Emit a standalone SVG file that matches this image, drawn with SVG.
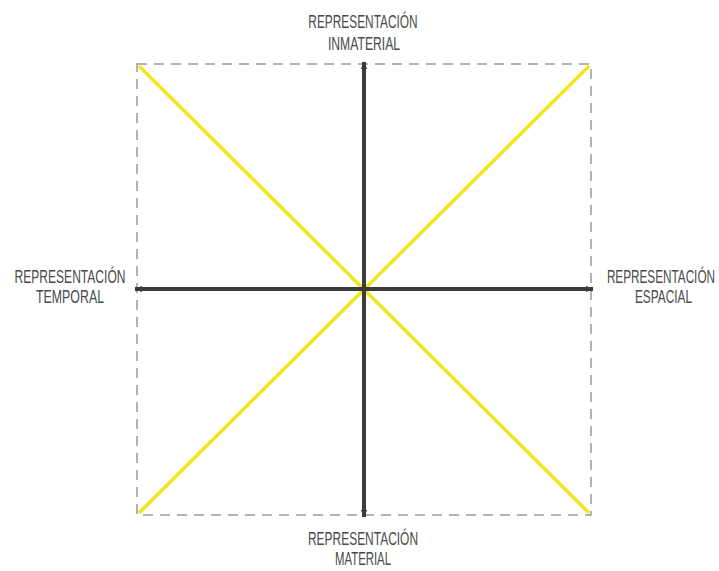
<svg xmlns="http://www.w3.org/2000/svg" width="719" height="571" viewBox="0 0 719 571">
<style>
.lbl{font-family:"Liberation Sans",Arial,sans-serif;font-size:18px;fill:#4a4a4a;text-anchor:middle}
.end{text-anchor:end}
.frame{fill:none;stroke:#9a9a9a;stroke-width:1.5;stroke-dasharray:10 7}
.diag{stroke:#f4e41c;stroke-width:3.5;stroke-linecap:butt}
.axis{stroke:#3c3c3c;stroke-width:4;marker-end:url(#tip)}
</style>
<defs>
<marker id="tip" viewBox="0 0 10 10" refX="9" refY="5" markerWidth="2" markerHeight="2" orient="auto" markerUnits="strokeWidth">
<path d="M0,1 L10,5 L0,9 z" fill="#3c3c3c"/>
</marker>
</defs>
<rect class="frame" x="137" y="64" width="454" height="451"/>
<g id="connectors">
<line class="diag" x1="139" y1="66" x2="589" y2="513"/>
<line class="diag" x1="589" y1="66" x2="139" y2="513"/>
<line class="axis" x1="364" y1="289" x2="364" y2="62"/>
<line class="axis" x1="364" y1="289" x2="364" y2="517"/>
<line class="axis" x1="364" y1="289" x2="135" y2="289"/>
<line class="axis" x1="364" y1="289" x2="593" y2="289"/>
</g>
<g id="top">
<text class="lbl" transform="translate(363,28) scale(0.66,1)">REPRESENTACIÓN</text>
<text class="lbl" transform="translate(364,50) scale(0.676,1)">INMATERIAL</text>
</g>
<g id="left">
<text class="lbl" transform="translate(70,283) scale(0.67,1)">REPRESENTACIÓN</text>
<text class="lbl" transform="translate(70,303) scale(0.687,1)">TEMPORAL</text>
</g>
<g id="right">
<text class="lbl end" transform="translate(715,283) scale(0.653,1)">REPRESENTACIÓN</text>
<text class="lbl end" transform="translate(692,303) scale(0.659,1)">ESPACIAL</text>
</g>
<g id="bottom">
<text class="lbl" transform="translate(363,545) scale(0.665,1)">REPRESENTACIÓN</text>
<text class="lbl" transform="translate(363,565) scale(0.633,1)">MATERIAL</text>
</g>
</svg>
